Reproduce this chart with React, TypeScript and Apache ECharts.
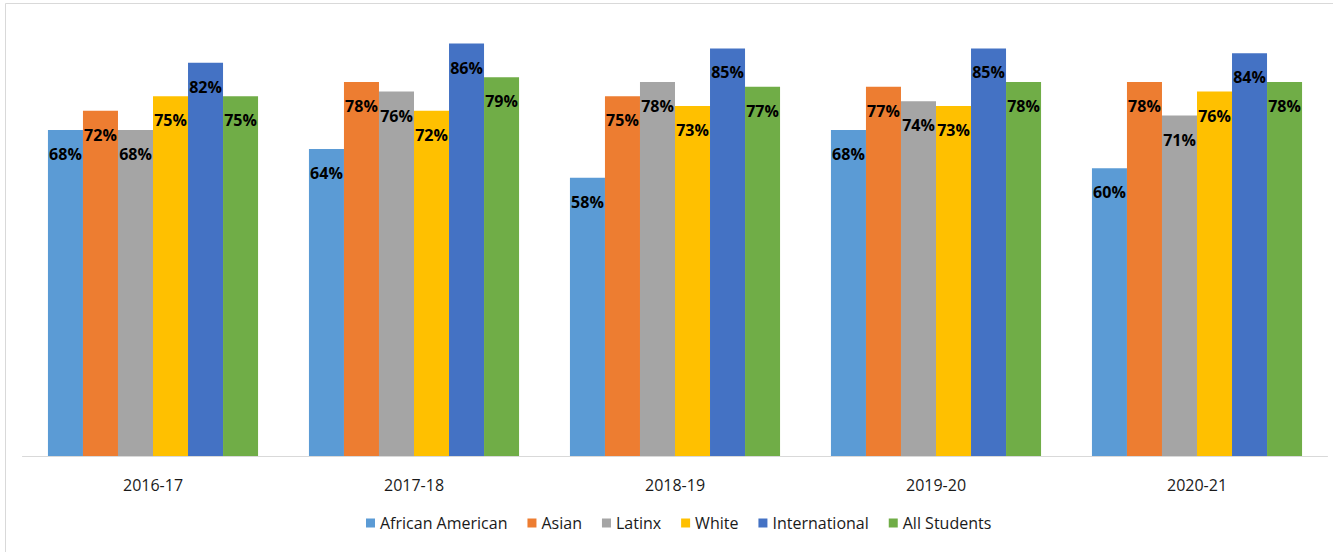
import React, { useEffect, useRef } from "react";
import * as echarts from "echarts";

const categories = ["2016-17", "2017-18", "2018-19", "2019-20", "2020-21"];
const seriesNames = ["African American", "Asian", "Latinx", "White", "International", "All Students"];
const africanAmerican = [68, 64, 58, 68, 60];
const asian = [72, 78, 75, 77, 78];
const latinx = [68, 76, 78, 74, 71];
const white = [75, 72, 73, 73, 76];
const international = [82, 86, 85, 85, 84];
const allStudents = [75, 79, 77, 78, 78];
const colors = ["#5B9BD5", "#ED7D31", "#A5A5A5", "#FFC000", "#4472C4", "#70AD47"];

const seriesValues = [africanAmerican, asian, latinx, white, international, allStudents];

const labelFont = "'Open Sans', 'Noto Sans', sans-serif";
const textFont = "'Open Sans', 'Noto Sans', sans-serif";

export default function App() {
  const ref = useRef<HTMLDivElement>(null);
  useEffect(() => {
    if (!ref.current) return;
    const chart = echarts.init(ref.current, null, { renderer: "svg" });
    chart.setOption({
      animation: false,
      backgroundColor: "#ffffff",
      graphic: [
        {
          type: "rect",
          shape: { x: 5.5, y: 3.5, width: 1340, height: 560 },
          style: { fill: "none", stroke: "#d9d9d9", lineWidth: 1 },
          silent: true,
        },
      ],
      grid: { left: 22.5, right: 5.5, top: 24.4, bottom: 96, containLabel: false },
      legend: {
        data: seriesNames,
        bottom: 16,
        left: 361,
        itemWidth: 9,
        itemHeight: 9,
        itemGap: 20,
        icon: "rect",
        textStyle: { fontFamily: textFont, fontSize: 16, color: "#1a1a1a" },
      },
      xAxis: {
        type: "category",
        data: categories,
        axisLine: { show: true, lineStyle: { color: "#d9d9d9", width: 1 } },
        axisTick: { show: false },
        axisLabel: { fontFamily: textFont, fontSize: 16, color: "#1a1a1a", margin: 21 },
      },
      yAxis: {
        type: "value",
        min: 0,
        max: 90,
        show: false,
        splitLine: { show: false },
      },
      series: seriesNames.map((name, i) => ({
        name,
        type: "bar",
        data: seriesValues[i],
        barGap: "0%",
        barCategoryGap: "19.5%",
        itemStyle: { color: colors[i] },
        label: {
          show: true,
          position: "insideTop",
          distance: 16,
          formatter: (p: any) => p.value + "%",
          fontFamily: labelFont,
          fontWeight: "bold",
          fontSize: 16,
          color: "#000000",
        },
      })),
    });
    return () => chart.dispose();
  }, []);
  return (
    <div
      ref={ref}
      style={{ position: "fixed", left: 0, top: 0, width: 1333, height: 552 }}
    />
  );
}
